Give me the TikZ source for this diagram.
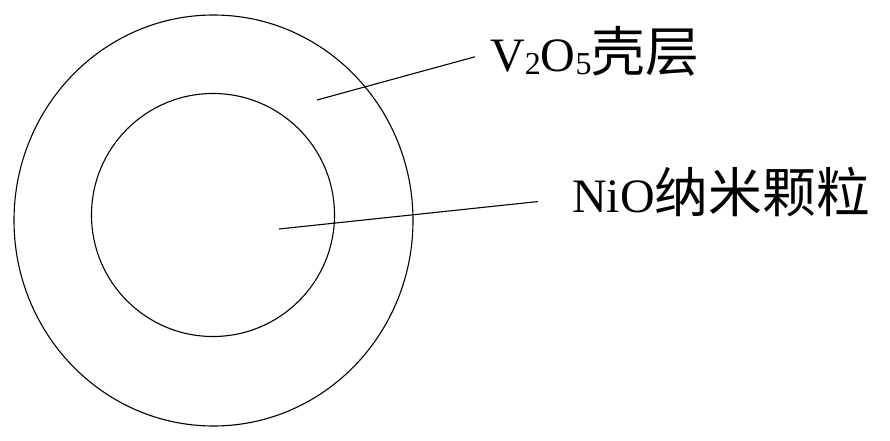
\documentclass[tikz,border=0pt]{standalone}
\usepackage{fontspec}
\setmainfont{Liberation Serif}
\newfontfamily\cjk{Noto Sans CJK SC}[Scale=1.12]
\def\subnum#1{\raisebox{-3pt}{\fontsize{32}{32}\selectfont #1}}

\begin{document}
\begin{tikzpicture}[x=1pt, y=1pt]
			%%%%% START %%%%%
			\useasboundingbox (0, 0) rectangle (890, 440);
			
			\draw[line width=1.1pt] (213.5, 219.5) ellipse (199.5 and 205.5);
			\draw[line width=1.1pt] (213, 225) circle (121.5);
			
			\node[anchor=base west, inner sep=0pt, font=\fontsize{48}{50}\selectfont] (shelllabel) at (490, 368) {V\subnum{2}O\subnum{5}{\cjk 壳层}};
			\node[anchor=base west, inner sep=0pt, font=\fontsize{48}{50}\selectfont] (corelabel) at (572, 228) {NiO{\cjk 纳米颗粒}};
			
			\coordinate (shellpt) at (317, 340);
			\coordinate (corept) at (279, 211);
			
			\draw[line width=1.1pt] (shellpt) -- ([xshift=-15pt, yshift=-5pt]shelllabel.west);
			\draw[line width=1.1pt] (corept) -- ([xshift=-34pt, yshift=-10pt]corelabel.west);
			%%%%% END %%%%%
\end{tikzpicture}
\end{document}
